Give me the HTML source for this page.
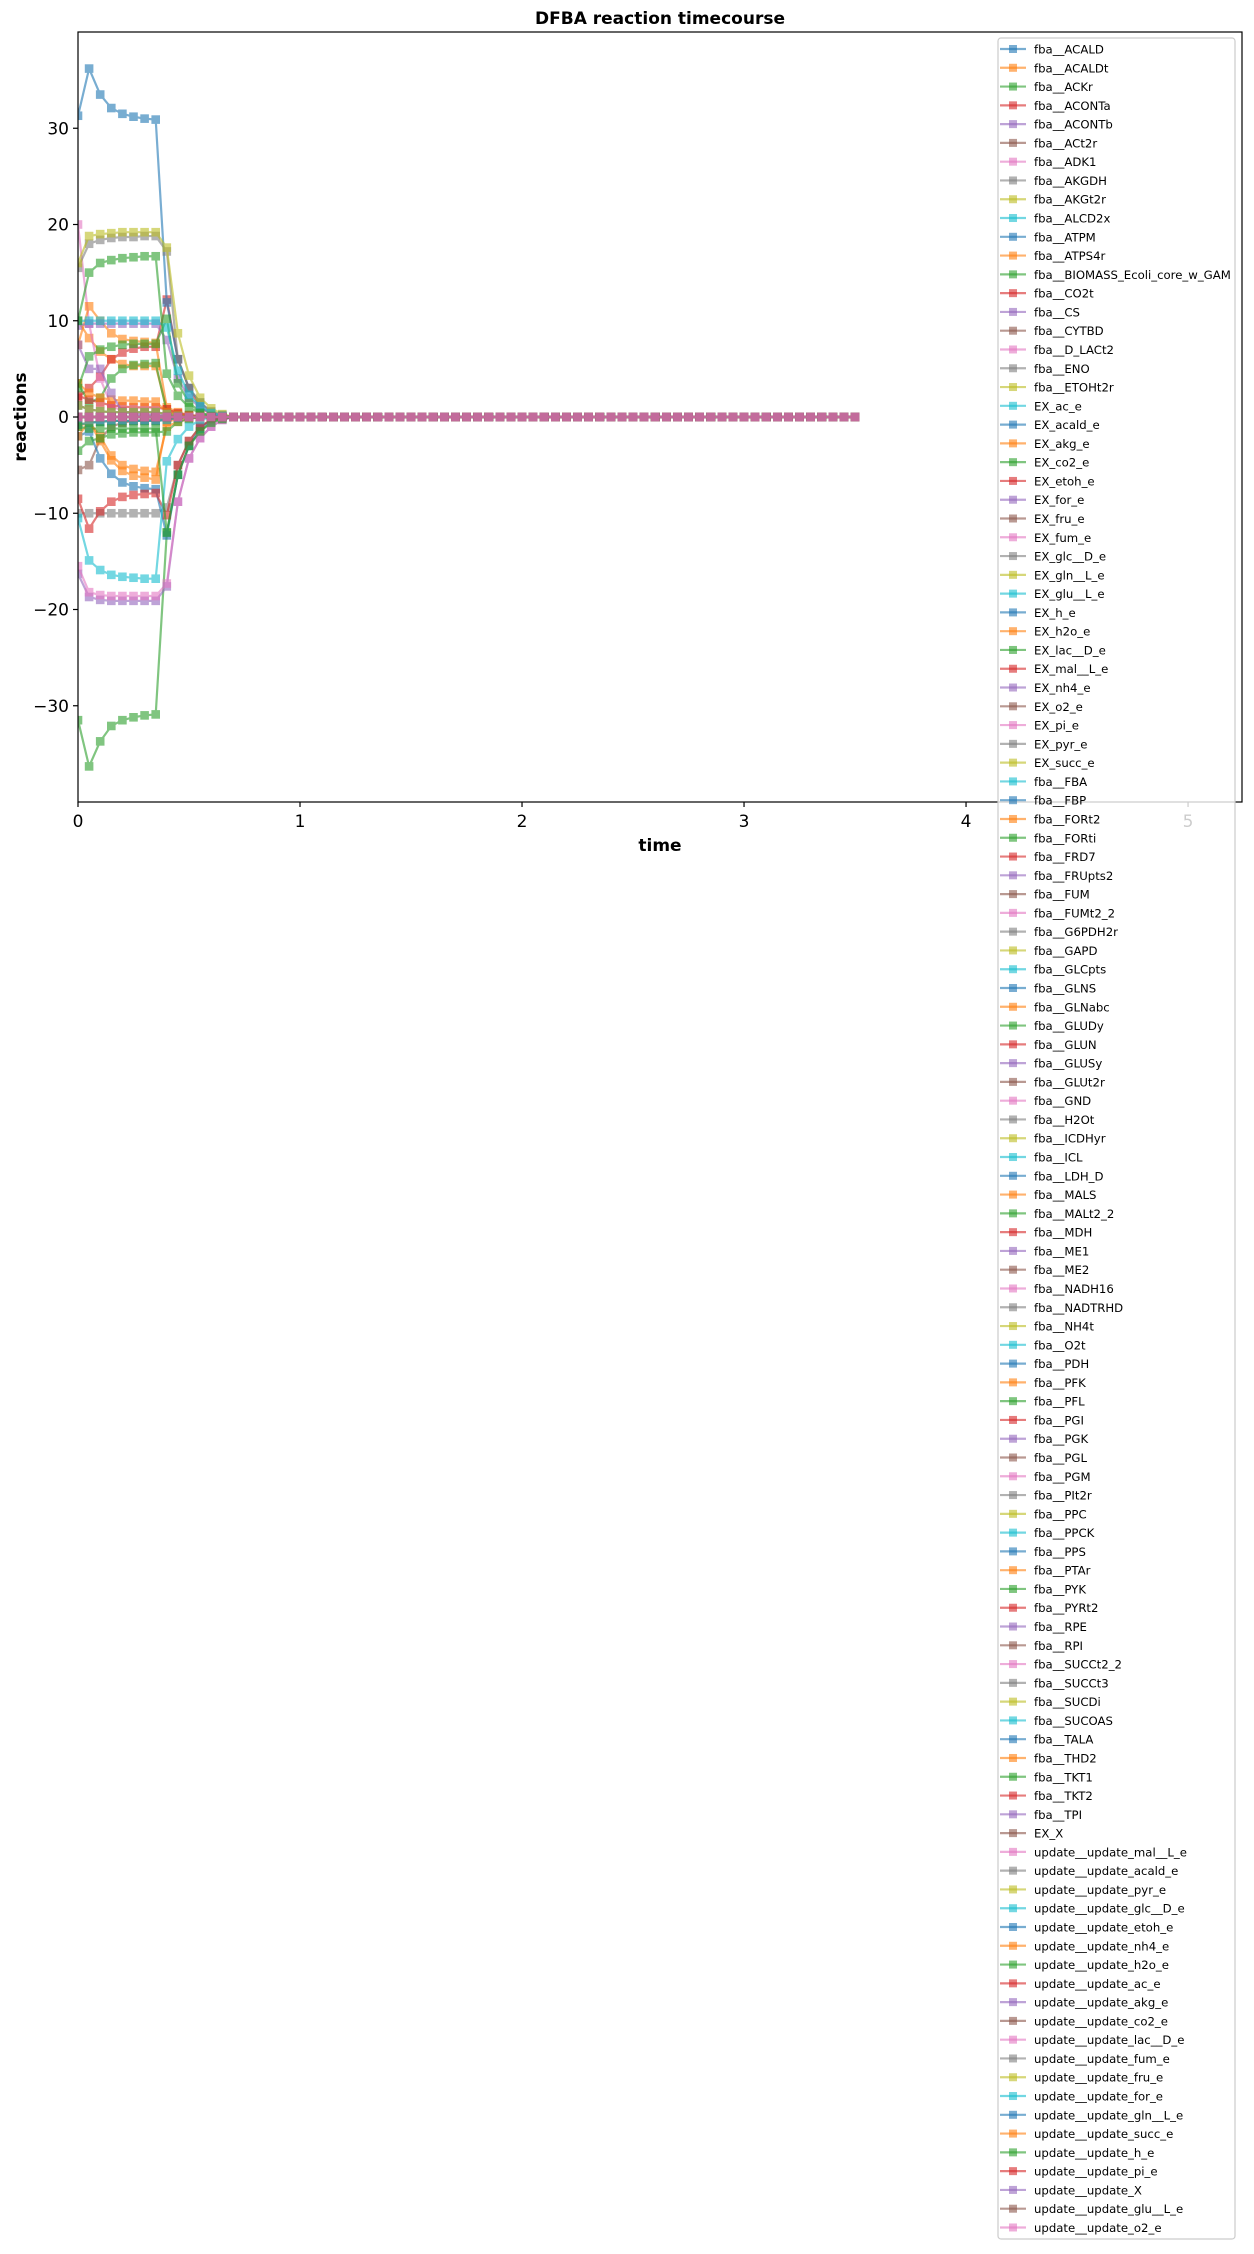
<!DOCTYPE html>
<html><head><meta charset="utf-8">
<style>
html,body{margin:0;padding:0;background:#fff;}
body{width:1254px;height:2249px;overflow:hidden;font-family:"Liberation Sans","DejaVu Sans",sans-serif;}
svg text{font-family:"DejaVu Sans","Liberation Sans",sans-serif;}
</style></head>
<body>
<svg id="chart" width="1254" height="2249" xmlns="http://www.w3.org/2000/svg">
<text x="660" y="24" text-anchor="middle" font-size="17" font-weight="bold">DFBA reaction timecourse</text>
<text transform="translate(26,417) rotate(-90)" text-anchor="middle" font-size="17" font-weight="bold">reactions</text>
<text x="660" y="851" text-anchor="middle" font-size="17" font-weight="bold">time</text>
<g id="plot"></g>
<g id="axes"></g>
<g id="legend"></g>
</svg>
<script>
const times = [0,0.05,0.1,0.15,0.2,0.25,0.3,0.35,0.4,0.45,0.5,0.55,0.6,0.65,0.7,0.75,0.8,0.85,0.9,0.95,1,1.05,1.1,1.15,1.2,1.25,1.3,1.35,1.4,1.45,1.5,1.55,1.6,1.65,1.7,1.75,1.8,1.85,1.9,1.95,2,2.05,2.1,2.15,2.2,2.25,2.3,2.35,2.4,2.45,2.5,2.55,2.6,2.65,2.7,2.75,2.8,2.85,2.9,2.95,3,3.05,3.1,3.15,3.2,3.25,3.3,3.35,3.4,3.45,3.5];
const steadyTail = [0,0,0,0,0,0,0,0,0,0,0,0,0,0,0,0,0,0,0,0,0,0,0,0,0,0,0,0,0,0,0,0,0,0,0,0,0,0,0,0,0,0,0,0,0,0,0,0,0,0,0,0,0,0,0,0];
const seriesNames = ["fba__ACALD","fba__ACALDt","fba__ACKr","fba__ACONTa","fba__ACONTb","fba__ACt2r","fba__ADK1","fba__AKGDH","fba__AKGt2r","fba__ALCD2x","fba__ATPM","fba__ATPS4r","fba__BIOMASS_Ecoli_core_w_GAM","fba__CO2t","fba__CS","fba__CYTBD","fba__D_LACt2","fba__ENO","fba__ETOHt2r","EX_ac_e","EX_acald_e","EX_akg_e","EX_co2_e","EX_etoh_e","EX_for_e","EX_fru_e","EX_fum_e","EX_glc__D_e","EX_gln__L_e","EX_glu__L_e","EX_h_e","EX_h2o_e","EX_lac__D_e","EX_mal__L_e","EX_nh4_e","EX_o2_e","EX_pi_e","EX_pyr_e","EX_succ_e","fba__FBA","fba__FBP","fba__FORt2","fba__FORti","fba__FRD7","fba__FRUpts2","fba__FUM","fba__FUMt2_2","fba__G6PDH2r","fba__GAPD","fba__GLCpts","fba__GLNS","fba__GLNabc","fba__GLUDy","fba__GLUN","fba__GLUSy","fba__GLUt2r","fba__GND","fba__H2Ot","fba__ICDHyr","fba__ICL","fba__LDH_D","fba__MALS","fba__MALt2_2","fba__MDH","fba__ME1","fba__ME2","fba__NADH16","fba__NADTRHD","fba__NH4t","fba__O2t","fba__PDH","fba__PFK","fba__PFL","fba__PGI","fba__PGK","fba__PGL","fba__PGM","fba__PIt2r","fba__PPC","fba__PPCK","fba__PPS","fba__PTAr","fba__PYK","fba__PYRt2","fba__RPE","fba__RPI","fba__SUCCt2_2","fba__SUCCt3","fba__SUCDi","fba__SUCOAS","fba__TALA","fba__THD2","fba__TKT1","fba__TKT2","fba__TPI","EX_X","update__update_mal__L_e","update__update_acald_e","update__update_pyr_e","update__update_glc__D_e","update__update_etoh_e","update__update_nh4_e","update__update_h2o_e","update__update_ac_e","update__update_akg_e","update__update_co2_e","update__update_lac__D_e","update__update_fum_e","update__update_fru_e","update__update_for_e","update__update_gln__L_e","update__update_succ_e","update__update_h_e","update__update_pi_e","update__update_X","update__update_glu__L_e","update__update_o2_e"];
// early-phase values (t = 0 .. 0.7); later points are steady-state zeros (steadyTail)
const vATPM     = [31.3,36.2,33.5,32.1,31.5,31.2,31.0,30.9,11.9,6.0,3.0,1.5,0.5,0.2,0];
const vACKr     = [-31.5,-36.3,-33.7,-32.1,-31.5,-31.2,-31.0,-30.9,-12.0,-6.0,-3.0,-1.5,-0.5,-0.2,0];
const vGAPD     = [16.0,18.8,19.0,19.1,19.2,19.2,19.2,19.2,17.6,8.7,4.3,2.0,0.9,0.3,0];
const vENO      = [15.5,18.0,18.4,18.6,18.7,18.7,18.8,18.8,17.2,6.0,3.0,1.5,0.6,0.2,0];
const vPFL      = [10.0,15.0,16.0,16.3,16.5,16.6,16.7,16.7,4.5,2.2,1.0,0.4,0.1,0,0];
const vGLCpts   = [10,10,10,10,10,10,10,10,9.3,4.8,2.3,1.1,0.4,0.1,0];
const vCS       = [9.5,9.7,9.7,9.7,9.7,9.7,9.7,9.7,8.0,4.0,2.0,1.0,0.4,0.1,0];
const vATPS4r   = [7.5,11.5,10.0,8.7,8.1,7.9,7.8,7.7,1.0,0.5,0.2,0.1,0,0,0];
const vFORti    = [3.0,6.3,7.0,7.3,7.5,7.6,7.6,7.6,10.2,3.5,1.5,0.5,0.1,0,0];
const vACONTa   = [2.0,3.0,4.2,6.0,6.7,7.1,7.3,7.3,12.2,6.0,3.0,1.0,0.3,0,0];
const vBIOMASS  = [3.5,1.5,2.0,4.0,5.0,5.4,5.5,5.6,0.5,0.2,0.1,0,0,0,0];
const vACALDt   = [10.0,8.2,6.8,6.0,5.5,5.3,5.3,5.3,0.8,0.3,0.1,0,0,0,0];
const vEXfor    = [7.5,5.0,5.0,2.5,0.5,0.3,0.2,0.2,0.1,0,0,0,0,0,0];
const vADK1     = [20.0,9.7,4.0,1.2,0.6,0.4,0.3,0.3,0.2,0.1,0,0,0,0,0];
const vEXakg    = [3.5,2.5,2.0,1.8,1.7,1.7,1.6,1.6,0.5,0.2,0.1,0,0,0,0];
const vCO2t     = [2.2,1.8,1.5,1.2,1.1,1.0,1.0,1.0,0.8,0.4,0.2,0.1,0,0,0];
const vEXglc    = [-10,-10,-10,-10,-10,-10,-10,-10,-9.4,-5.0,-2.5,-1.0,-0.3,0,0];
const vMDH      = [-8.5,-11.6,-9.8,-8.8,-8.3,-8.1,-8.0,-7.9,-10.2,-5.0,-2.5,-1.0,-0.3,0,0];
const vEXh      = [-2.0,-1.5,-4.3,-5.9,-6.8,-7.2,-7.4,-7.5,-12.3,-6.0,-3.0,-1.2,-0.3,0,0];
const vEXh2o    = [-2.0,-0.5,-2.0,-4.0,-5.0,-5.4,-5.6,-5.7,-1.0,-0.5,-0.2,0,0,0,0];
const vFORt2    = [-1.0,-0.5,-2.5,-4.5,-5.6,-6.1,-6.3,-6.5,-0.5,-0.2,0,0,0,0,0];
const vPPCK     = [-10.5,-14.9,-15.9,-16.4,-16.6,-16.7,-16.8,-16.8,-4.6,-2.3,-1.0,-0.3,0,0,0];
const vPGM      = [-15.5,-18.2,-18.5,-18.6,-18.6,-18.6,-18.6,-18.6,-17.3,-8.8,-4.3,-2.2,-1.0,-0.3,0];
const vPGK      = [-16.3,-18.7,-19.0,-19.1,-19.1,-19.1,-19.1,-19.1,-17.6,-8.8,-4.3,-2.2,-1.0,-0.3,0];
const vGLUDy    = [-3.5,-2.5,-2.2,-1.8,-1.7,-1.6,-1.6,-1.6,-1.5,-0.5,-0.2,0,0,0,0];
const vTKT1     = [-1.0,-1.2,-1.2,-1.2,-1.2,-1.2,-1.2,-1.2,-12.0,-6.0,-3.0,-1.5,-0.6,-0.2,0];
const vACt2r    = [-5.5,-5.0,-2.3,-1.0,-0.6,-0.4,-0.3,-0.3,-0.2,-0.1,0,0,0,0,0];
const vSmallPos = [1.2,0.8,0.6,0.5,0.5,0.5,0.5,0.5,0.3,0.1,0,0,0,0,0];
const vSmallNeg = [-0.8,-0.6,-0.5,-0.4,-0.4,-0.4,-0.4,-0.4,-0.3,-0.1,0,0,0,0,0];
const vZero     = [0,0,0,0,0,0,0,0,0,0,0,0,0,0,0];
const seriesEarly = {
 "fba__ATPM":vATPM,"fba__ACKr":vACKr,"fba__GAPD":vGAPD,"fba__ENO":vENO,"fba__PFL":vPFL,
 "fba__GLCpts":vGLCpts,"fba__CS":vCS,"fba__ATPS4r":vATPS4r,"fba__FORti":vFORti,"fba__ACONTa":vACONTa,
 "fba__BIOMASS_Ecoli_core_w_GAM":vBIOMASS,"fba__ACALDt":vACALDt,"EX_for_e":vEXfor,"fba__ADK1":vADK1,
 "EX_akg_e":vEXakg,"fba__CO2t":vCO2t,"EX_glc__D_e":vEXglc,"fba__MDH":vMDH,"EX_h_e":vEXh,"EX_h2o_e":vEXh2o,
 "fba__FORt2":vFORt2,"fba__PPCK":vPPCK,"fba__PGM":vPGM,"fba__PGK":vPGK,"fba__GLUDy":vGLUDy,
 "fba__TKT1":vTKT1,"fba__ACt2r":vACt2r,"fba__SUCDi":vSmallPos,"fba__NADH16":vSmallPos,"fba__PDH":vSmallPos,
 "fba__O2t":vSmallNeg,"EX_o2_e":vSmallNeg,"fba__CYTBD":vSmallNeg
};
const xTicks = [0,1,2,3,4,5];
const yTicks = [-30,-20,-10,0,10,20,30];
const colors = ["#1f77b4","#ff7f0e","#2ca02c","#d62728","#9467bd","#8c564b","#e377c2","#7f7f7f","#bcbd22","#17becf"];

const NS = "http://www.w3.org/2000/svg";
const L = 78, R = 1242, T = 32, B = 802;
const xMin = 0, xMax = 5.243, yMin = -40, yMax = 40;
function xs(v){ return L + (v - xMin) / (xMax - xMin) * (R - L); }
function ys(v){ return B - (v - yMin) / (yMax - yMin) * (B - T); }
function mk(tag, attrs, parent){ const e = document.createElementNS(NS, tag); for (const k in attrs) e.setAttribute(k, attrs[k]); parent.appendChild(e); return e; }

const plot = document.getElementById('plot');
const axes = document.getElementById('axes');
const legend = document.getElementById('legend');

const defs = mk('defs', {}, document.getElementById('chart'));
const cp = mk('clipPath', {id:'clip'}, defs);
mk('rect', {x:L, y:T, width:R-L, height:B-T}, cp);
plot.setAttribute('clip-path', 'url(#clip)');

seriesNames.forEach((name, i) => {
  const early = seriesEarly[name] || vZero;
  const vals = early.concat(steadyTail);
  const col = colors[i % 10];
  const g = mk('g', {opacity:0.6}, plot);
  
  
  let d = '';
  times.forEach((t, j) => { d += (j ? 'L' : 'M') + xs(t).toFixed(2) + ' ' + ys(vals[j]).toFixed(2); });
  const line = mk('path', {d:d, fill:'none', stroke:col, 'stroke-width':2.2, 'stroke-linejoin':'round'}, g);
  
  
  times.forEach((t, j) => {
    const m = mk('rect', {x:(xs(t)-4.3).toFixed(2), y:(ys(vals[j])-4.3).toFixed(2), width:8.6, height:8.6, fill:col}, g);
    
    
  });
});

const frame = mk('rect', {x:L, y:T, width:R-L, height:B-T, fill:'none', stroke:'#000', 'stroke-width':1.2}, axes);


xTicks.forEach(v => {
  const x = xs(v);
  const tk = mk('line', {x1:x, x2:x, y1:B, y2:B+5, stroke:'#000', 'stroke-width':1.2}, axes);
  
  
  const tx = mk('text', {x:x, y:B+25, 'text-anchor':'middle', 'font-size':17}, axes);
  tx.textContent = String(v);
  
  
});
yTicks.forEach(v => {
  const y = ys(v);
  const tk = mk('line', {x1:L-5, x2:L, y1:y, y2:y, stroke:'#000', 'stroke-width':1.2}, axes);
  
  
  const tx = mk('text', {x:L-9, y:y+6, 'text-anchor':'end', 'font-size':17}, axes);
  tx.textContent = v < 0 ? '\u2212' + Math.abs(v) : String(v);
  
  
});

const lbox = mk('rect', {x:998, y:38, width:237, height:2201, rx:3, fill:'#fff', 'fill-opacity':0.8, stroke:'#ccc', 'stroke-width':1.2}, legend);


seriesNames.forEach((name, i) => {
  const y = 49 + i * 18.78;
  const col = colors[i % 10];
  const g = mk('g', {}, legend);
  
  
  mk('line', {x1:1000, x2:1026, y1:y, y2:y, stroke:col, 'stroke-width':2.2, opacity:0.6}, g);
  mk('rect', {x:1009, y:y-4, width:8, height:8, fill:col, opacity:0.6}, g);
  const t = mk('text', {x:1034, y:y+4.5, 'font-size':11.7}, g);
  t.textContent = name;
});
</script>
</body></html>
